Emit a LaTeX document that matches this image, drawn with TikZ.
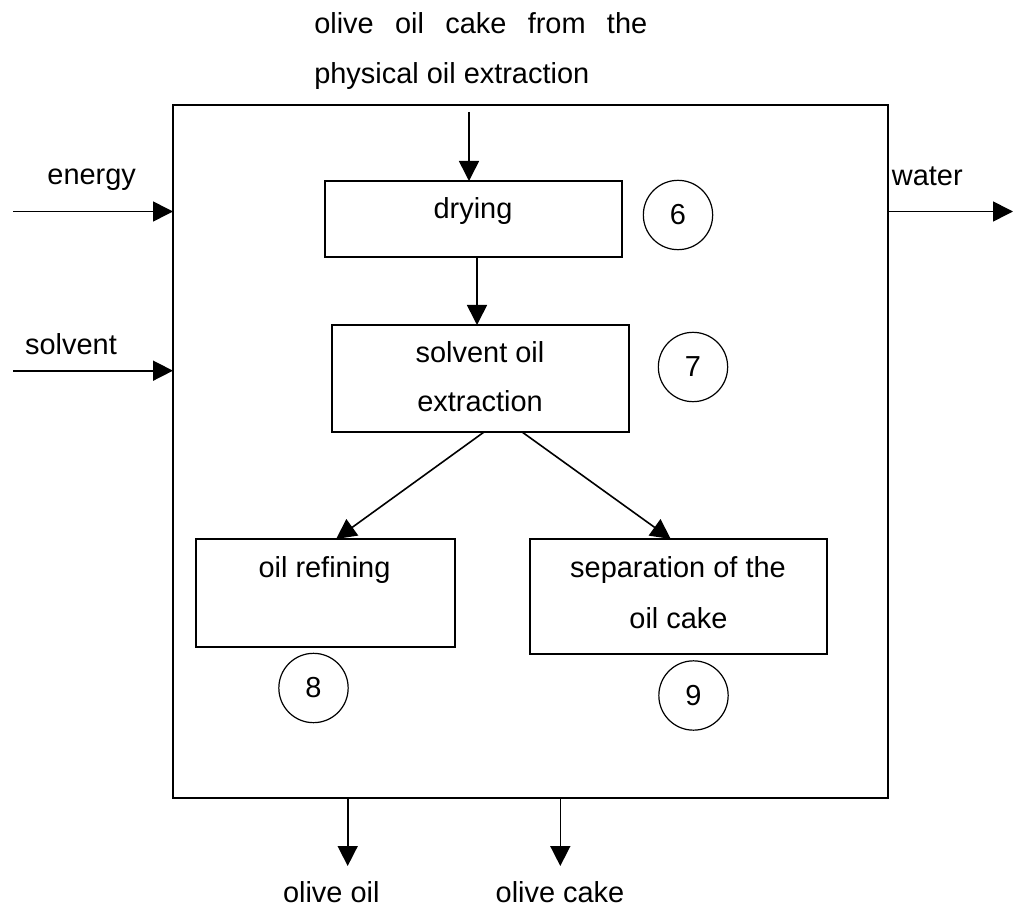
\documentclass[tikz,border=0pt]{standalone}
\usepackage{fontspec}
\setmainfont{Liberation Sans}
\usetikzlibrary{arrows.meta,fit,calc}
\begin{document}
\begin{tikzpicture}[x=0.75pt,y=-0.75pt,
  font=\fontsize{21.7pt}{37.5pt}\selectfont,
  frame/.style={draw, line width=1.4pt, inner sep=0pt, outer sep=0pt},
  stage/.style={draw, line width=1.2pt, inner sep=0pt, outer sep=0pt},
  num/.style={draw, circle, line width=0.9pt, minimum size=52pt, inner sep=0pt},
  txt/.style={anchor=base, inner sep=0pt},
  flow/.style={line width=1.2pt, -{Triangle[length=15pt,width=15pt]}}]
\useasboundingbox (0,0) rectangle (1014,909);

% system boundary
\node[frame, fit={(173,105) (888,798)}] (sys) {};

% process stages
\node[stage, fit={(325,181) (622,257)}] (dry) {};
\node[stage, fit={(332,325) (629,432)}] (sol) {};
\node[stage, fit={(196,539) (455,647)}] (ref) {};
\node[stage, fit={(530,539) (827,654)}] (sep) {};

% stage labels
\node[txt] (drytxt)  at (473,219)   {drying};
\node[txt] (soltxt1) at (480,362.5) {solvent oil};
\node[txt] (soltxt2) at (480,411.5) {extraction};
\node[txt] (reftxt)  at (324.5,577) {oil refining};
\node[txt] (septxt1) at (678,577)   {separation of the};
\node[txt] (septxt2) at (678.5,628) {oil cake};

% stage numbers
\node[num] (n6) at (678,215)   {6};
\node[num] (n7) at (693,367)   {7};
\node[num] (n8) at (313.5,688) {8};
\node[num] (n9) at (693.5,695.5) {9};

% feed from the top
\node[txt, anchor=base west] (src1) at (314,33.3) {\makebox[249.75pt][s]{olive oil cake from the}};
\node[txt, anchor=base west] (src2) at (314,83.3) {physical oil extraction};
\coordinate (feed) at (469,112);
\draw[flow] (feed) -- (feed |- dry.north);

% internal flows
\draw[flow] ($(dry.south)!0.5!(dry.south -| sol.north)$) coordinate (ds)
  -- (ds |- sol.north);
\draw[flow] ($(sol.south west)!0.512!(sol.south east)$)
  -- ($(ref.north west)!0.541!(ref.north east)$);
\draw[flow] ($(sol.south west)!0.640!(sol.south east)$)
  -- ($(sep.north west)!0.474!(sep.north east)$);

% inputs on the left
\node[txt] (energy)  at (91.7,185)  {energy};
\node[txt] (solvent) at (71,354.3)  {solvent};
\coordinate (ein) at (13,211.5);
\coordinate (sin) at (13,370.7);
\draw[flow] (ein) -- (ein -| sys.west);
\draw[flow] (sin) -- (sin -| sys.west);

% output on the right
\node[txt, anchor=base west] (water) at (891.7,186) {water};
\coordinate (wout) at (1013,211.5);
\draw[flow] (wout -| sys.east) -- (wout);

% outputs at the bottom
\coordinate (oil) at (347.7,866);
\coordinate (cake) at (560.3,866);
\draw[flow] (oil |- sys.south) -- (oil);
\draw[flow] (cake |- sys.south) -- (cake);
\node[txt] (oiltxt)  at (331.3,902) {olive oil};
\node[txt] (caketxt) at (560,902)   {olive cake};
\end{tikzpicture}
\end{document}
